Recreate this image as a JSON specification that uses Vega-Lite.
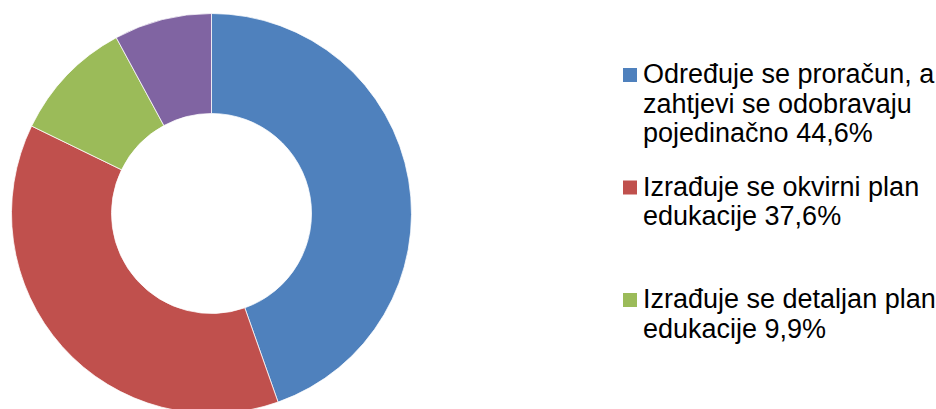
{
  "$schema": "https://vega.github.io/schema/vega-lite/v6.json",
  "padding": 0,
  "spacing": 200,
  "background": "white",
  "config": {"view": {"stroke": null}, "font": "Liberation Sans"},
  "datasets": {
    "slices": [
      {"category": "Određuje se proračun, a\nzahtjevi se odobravaju\npojedinačno 44,6%", "value": 44.6},
      {"category": "Izrađuje se okvirni plan\nedukacije 37,6%", "value": 37.6},
      {"category": "Izrađuje se detaljan plan\nedukacije 9,9%", "value": 9.9},
      {"category": "Ostalo 7,9%", "value": 7.9}
    ]
  },
  "hconcat": [
    {
      "width": 423,
      "height": 427,
      "data": {"name": "slices"},
      "mark": {"type": "arc", "innerRadius": 100, "outerRadius": 200, "stroke": "#ffffff", "strokeWidth": 0.75},
      "encoding": {
        "theta": {"field": "value", "type": "quantitative", "stack": true},
        "order": {"field": "value", "type": "quantitative", "sort": "descending"},
        "color": {
          "field": "category",
          "type": "nominal",
          "scale": {
            "domain": [
              "Određuje se proračun, a\nzahtjevi se odobravaju\npojedinačno 44,6%",
              "Izrađuje se okvirni plan\nedukacije 37,6%",
              "Izrađuje se detaljan plan\nedukacije 9,9%",
              "Ostalo 7,9%"
            ],
            "range": ["#4F81BD", "#C0504D", "#9BBB59", "#8064A2"]
          },
          "legend": null
        }
      }
    },
    {
      "width": 14,
      "height": 375,
      "data": {"name": "slices"},
      "transform": [{"filter": "datum.value > 9"}],
      "encoding": {
        "y": {
          "field": "category",
          "type": "nominal",
          "sort": null,
          "scale": {"type": "point", "padding": 0.6667},
          "axis": null
        }
      },
      "layer": [
        {
          "mark": {"type": "square", "size": 196, "opacity": 1, "filled": true},
          "encoding": {
            "color": {
              "field": "category",
              "type": "nominal",
              "scale": {
                "domain": [
                  "Određuje se proračun, a\nzahtjevi se odobravaju\npojedinačno 44,6%",
                  "Izrađuje se okvirni plan\nedukacije 37,6%",
                  "Izrađuje se detaljan plan\nedukacije 9,9%",
                  "Ostalo 7,9%"
                ],
                "range": ["#4F81BD", "#C0504D", "#9BBB59", "#8064A2"]
              },
              "legend": null
            }
          }
        },
        {
          "mark": {
            "type": "text",
            "align": "left",
            "baseline": "alphabetic",
            "dx": 13,
            "dy": 8,
            "font": "Liberation Sans",
            "fontSize": 27,
            "lineHeight": 29.7,
            "lineBreak": "\n",
            "color": "#000000"
          },
          "encoding": {
            "text": {"field": "category", "type": "nominal"}
          }
        }
      ]
    }
  ]
}
